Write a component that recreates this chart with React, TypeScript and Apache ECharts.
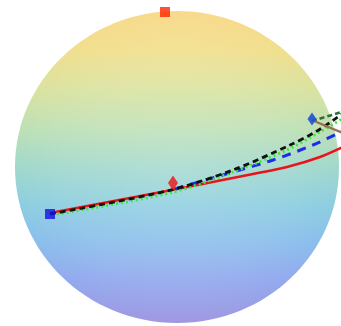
import React, { useEffect, useRef } from "react";
import * as echarts from "echarts";

// Sphere (projected) centre and radii, in picture units
const sphereCenter = [177, 167];
const sphereRadii = [162, 156];

// Paths (x, y in picture units, y downwards)
const redSolid = [[50, 213], [172, 190], [253, 174], [287, 167], [320, 157], [345, 146]];
const blueDashed = [[175, 189], [233, 172], [273, 160], [313, 145], [345, 130]];
const blackDashed = [[50, 214], [167, 191], [233, 170], [290, 145], [317, 131], [345, 112]];
const greenDotted = [[52, 215], [170, 193], [233, 172], [287, 150], [320, 132], [345, 117]];
const darkGreenDashed = [[312, 121], [345, 111]];
const brownSolid = [[314, 121], [345, 134]];

const blueSquare = [[50, 214]];
const redSquare = [[165, 12]];
const redDiamond = [[173, 183]];
const blueDiamond = [[312, 119]];

export default function App() {
  const ref = useRef<HTMLDivElement>(null);
  useEffect(() => {
    const chart = echarts.init(ref.current!, null, { renderer: "svg" });
    const sphereFill = new echarts.graphic.LinearGradient(0, 0, 0, 1, [
      { offset: 0, color: "#f8da8c" },
      { offset: 0.12, color: "#f2df8e" },
      { offset: 0.25, color: "#dae3a0" },
      { offset: 0.38, color: "#bde0b6" },
      { offset: 0.5, color: "#a1d8cc" },
      { offset: 0.62, color: "#8dcee0" },
      { offset: 0.74, color: "#8bbeec" },
      { offset: 0.86, color: "#93aaee" },
      { offset: 1, color: "#9f98e2" },
    ]);
    const sheen = new echarts.graphic.RadialGradient(0.5, 0.5, 0.5, [
      { offset: 0, color: "rgba(255,255,255,0.18)" },
      { offset: 0.7, color: "rgba(255,255,255,0.08)" },
      { offset: 1, color: "rgba(255,255,255,0)" },
    ]);
    const lineBase = { type: "line", symbol: "none", smooth: 0.3, clip: true, z: 3 };
    chart.setOption({
      animation: false,
      grid: { left: 0, right: 0, top: 0, bottom: 0 },
      xAxis: { type: "value", min: 0, max: 341, show: false },
      yAxis: { type: "value", min: 0, max: 326, inverse: true, show: false },
      series: [
        {
          type: "custom",
          z: 1,
          data: [sphereCenter],
          renderItem: (params: any, api: any) => {
            const c = api.coord([api.value(0), api.value(1)]);
            const s = api.size([sphereRadii[0], sphereRadii[1]]);
            return {
              type: "group",
              children: [
                { type: "ellipse", shape: { cx: c[0], cy: c[1], rx: s[0], ry: s[1] }, style: { fill: sphereFill } },
                { type: "ellipse", shape: { cx: c[0], cy: c[1], rx: s[0], ry: s[1] }, style: { fill: sheen } },
              ],
            };
          },
        },
        { ...lineBase, data: redSolid, lineStyle: { color: "#e8141c", width: 2.6, type: "solid" } },
        { ...lineBase, data: blueDashed, lineStyle: { color: "#1a2ee6", width: 3, type: [9, 7] } },
        { ...lineBase, data: greenDotted, lineStyle: { color: "#3ee63e", width: 2.8, type: [2, 3] } },
        { ...lineBase, data: blackDashed, lineStyle: { color: "#111111", width: 2.8, type: [6, 4] } },
        { ...lineBase, data: darkGreenDashed, lineStyle: { color: "#2f6e3a", width: 2.6, type: [5, 3] } },
        { ...lineBase, data: brownSolid, lineStyle: { color: "#9a7050", width: 2.4, type: "solid" } },
        { type: "scatter", z: 4, data: blueSquare, symbol: "rect", symbolSize: 10, itemStyle: { color: "#1212e6" } },
        { type: "scatter", z: 4, data: redSquare, symbol: "rect", symbolSize: 10, itemStyle: { color: "#ff2400" } },
        { type: "scatter", z: 4, data: redDiamond, symbol: "diamond", symbolSize: [10, 15], itemStyle: { color: "#f01010" } },
        { type: "scatter", z: 4, data: blueDiamond, symbol: "diamond", symbolSize: [9, 13], itemStyle: { color: "#2050d8", opacity: 0.9 } },
      ],
    });
    return () => chart.dispose();
  }, []);
  return (
    <div
      ref={ref}
      style={{ position: "fixed", left: 0, top: 0, width: 341, height: 326, background: "#ffffff" }}
    />
  );
}
